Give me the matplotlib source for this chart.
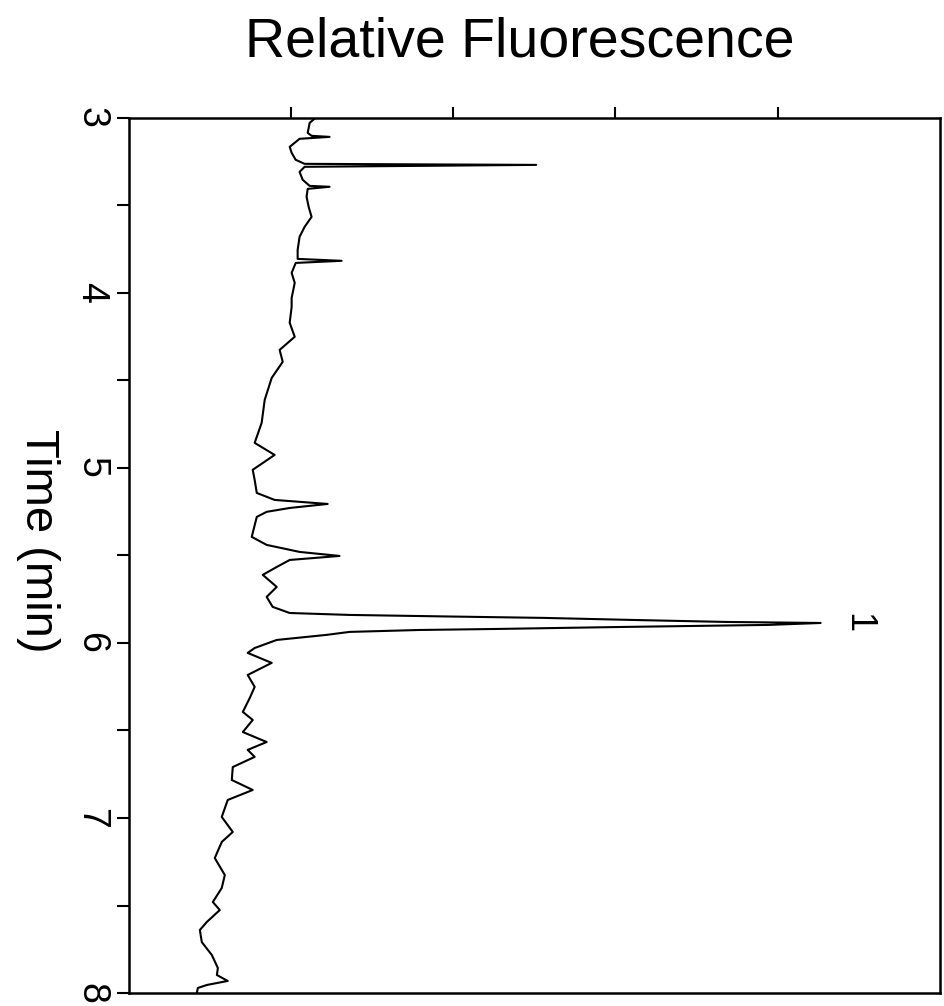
import matplotlib
matplotlib.use('Agg')
import matplotlib.pyplot as plt
import numpy as np

plt.rcParams['font.family'] = ['Liberation Sans', 'DejaVu Sans']

# traced chromatogram: time (min) and relative fluorescence (arb. units)
time_min = [3.000, 3.029, 3.086, 3.103, 3.109, 3.120, 3.166, 3.200, 3.240, 3.263,
            3.269, 3.280, 3.309, 3.354, 3.389, 3.394, 3.406, 3.451, 3.509, 3.566,
            3.623, 3.680, 3.754, 3.806, 3.817, 3.829, 3.886, 3.943, 4.029, 4.080,
            4.171, 4.251, 4.326, 4.394, 4.486, 4.611, 4.743, 4.857, 4.926, 5.011,
            5.069, 5.143, 5.183, 5.206, 5.229, 5.251, 5.280, 5.394, 5.440, 5.480,
            5.503, 5.526, 5.566, 5.611, 5.680, 5.737, 5.794, 5.829, 5.840, 5.849,
            5.857, 5.869, 5.880, 5.886, 5.897, 5.909, 5.920, 5.926, 5.937, 5.954,
            5.983, 6.029, 6.057, 6.114, 6.183, 6.251, 6.314, 6.394, 6.440, 6.509,
            6.566, 6.611, 6.651, 6.709, 6.783, 6.840, 6.897, 6.994, 7.080, 7.137,
            7.229, 7.326, 7.400, 7.480, 7.526, 7.594, 7.640, 7.709, 7.783, 7.857,
            7.897, 7.931, 7.954, 7.971, 8.000]
fluor = [1.151, 1.114, 1.102, 1.126, 1.237, 1.052, 0.991, 1.003, 1.028, 1.083,
         2.511, 1.083, 1.052, 1.071, 1.114, 1.237, 1.102, 1.095, 1.108, 1.126,
         1.083, 1.052, 1.040, 1.040, 1.311, 1.028, 1.003, 1.022, 1.003, 1.003,
         0.991, 1.022, 0.929, 0.948, 0.880, 0.837, 0.818, 0.775, 0.898, 0.763,
         0.775, 0.788, 0.898, 1.225, 0.991, 0.849, 0.788, 0.757, 0.849, 1.052,
         1.298, 0.991, 0.911, 0.825, 0.911, 0.849, 0.886, 0.991, 1.360, 1.975,
         2.560, 3.120, 3.680, 4.265, 3.945, 3.020, 2.280, 1.790, 1.360, 1.218,
         0.911, 0.775, 0.732, 0.880, 0.732, 0.775, 0.745, 0.702, 0.763, 0.702,
         0.849, 0.732, 0.775, 0.640, 0.634, 0.763, 0.609, 0.572, 0.640, 0.572,
         0.529, 0.591, 0.572, 0.517, 0.560, 0.480, 0.437, 0.449, 0.511, 0.548,
         0.542, 0.609, 0.480, 0.425, 0.418]

time_ticks = [3, 4, 5, 6, 7, 8]
fluor_ticks = [1, 2, 3, 4]
peak_label = '1'
peak_time = 5.886
peak_fluor = 4.265

fig = plt.figure(figsize=(9.45, 10.06), dpi=100)
ax = fig.add_axes([0.1365, 0.0129, 0.858, 0.870])

ax.plot(fluor, time_min, color='black', lw=1.5)

ax.set_xlim(0, 5)
ax.set_ylim(8, 3)

half_ticks = np.arange(3, 8.01, 0.5)
ax.set_yticks(half_ticks)
ax.set_yticklabels([str(int(t)) if t in time_ticks else '' for t in half_ticks])
ax.tick_params(axis='y', direction='out', length=9, width=1.5, pad=5,
               labelsize=27, labelrotation=-90)
for lbl in ax.get_yticklabels():
    lbl.set_va('center')

ax.xaxis.tick_top()
ax.set_xticks(fluor_ticks)
ax.set_xticklabels([])
ax.tick_params(axis='x', direction='out', length=8, width=1.5)

for sp in ax.spines.values():
    sp.set_linewidth(1.8)

ax.text(peak_fluor + 0.23, peak_time, peak_label, rotation=-90, fontsize=26,
        ha='center', va='center')

fig.text(0.550, 0.958, 'Relative Fluorescence', fontsize=40, ha='center', va='center')
fig.text(0.040, 0.462, 'Time (min)', fontsize=34, rotation=-90, ha='center', va='center')

fig.savefig('out.png', dpi=100)
